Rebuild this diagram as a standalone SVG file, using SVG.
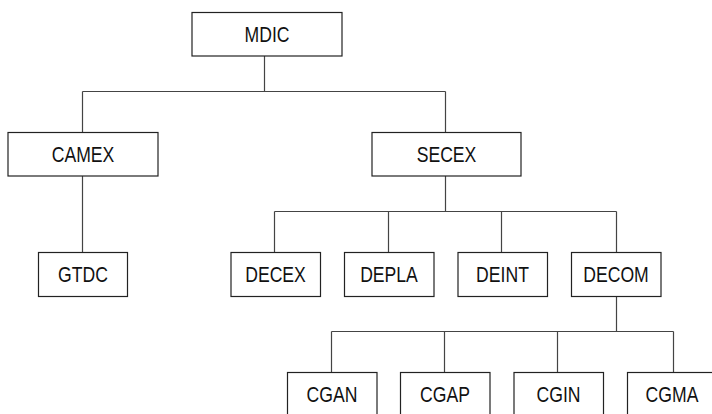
<svg xmlns="http://www.w3.org/2000/svg" width="712" height="414" viewBox="0 0 712 414">
<style>
.box{fill:#fff;stroke:#222;stroke-width:1.2}
.lbl{font-family:"Liberation Sans",Arial,sans-serif;font-size:22px;fill:#111;text-anchor:middle}
.con{fill:none;stroke:#444;stroke-width:1.2}
</style>
<rect width="712" height="414" fill="#fff"/>
<g id="connectors">
<path class="con" d="M264.5 56V91.5M82.5 91.5H445.5M82.5 91.5V132M445.5 91.5V132"/>
<path class="con" d="M82.5 176V252"/>
<path class="con" d="M445.5 176V211.5M274.5 211.5H616.5M274.5 211.5V252M388.5 211.5V252M501.5 211.5V252M616.5 211.5V252"/>
<path class="con" d="M616.5 296V331.5M331.5 331.5H673.5M331.5 331.5V372M444.5 331.5V372M557.5 331.5V372M673.5 331.5V372"/>
</g>
<g id="MDIC"><rect class="box" x="192" y="12.5" width="150" height="43.5"/><text class="lbl" transform="translate(267 41.5) scale(0.8 1)">MDIC</text></g>
<g id="CAMEX"><rect class="box" x="8" y="132.5" width="150" height="43.5"/><text class="lbl" transform="translate(83 161.5) scale(0.8 1)">CAMEX</text></g>
<g id="SECEX"><rect class="box" x="372" y="132.5" width="149" height="43.5"/><text class="lbl" transform="translate(446.5 161.5) scale(0.8 1)">SECEX</text></g>
<g id="GTDC"><rect class="box" x="38.5" y="252.5" width="89" height="44"/><text class="lbl" transform="translate(83 281.5) scale(0.8 1)">GTDC</text></g>
<g id="DECEX"><rect class="box" x="231" y="252.5" width="89.5" height="44"/><text class="lbl" transform="translate(275.5 281.5) scale(0.8 1)">DECEX</text></g>
<g id="DEPLA"><rect class="box" x="344.5" y="252.5" width="89.5" height="44"/><text class="lbl" transform="translate(389 281.5) scale(0.8 1)">DEPLA</text></g>
<g id="DEINT"><rect class="box" x="458" y="252.5" width="89.5" height="44"/><text class="lbl" transform="translate(502.5 281.5) scale(0.8 1)">DEINT</text></g>
<g id="DECOM"><rect class="box" x="571.5" y="252.5" width="89.5" height="44"/><text class="lbl" transform="translate(616 281.5) scale(0.8 1)">DECOM</text></g>
<g id="CGAN"><rect class="box" x="287.5" y="372.5" width="89.5" height="50"/><text class="lbl" transform="translate(332 401.5) scale(0.8 1)">CGAN</text></g>
<g id="CGAP"><rect class="box" x="400.5" y="372.5" width="89.5" height="50"/><text class="lbl" transform="translate(445 401.5) scale(0.8 1)">CGAP</text></g>
<g id="CGIN"><rect class="box" x="514" y="372.5" width="89.5" height="50"/><text class="lbl" transform="translate(558.5 401.5) scale(0.8 1)">CGIN</text></g>
<g id="CGMA"><rect class="box" x="627.5" y="372.5" width="89.5" height="50"/><text class="lbl" transform="translate(672 401.5) scale(0.8 1)">CGMA</text></g>
</svg>
